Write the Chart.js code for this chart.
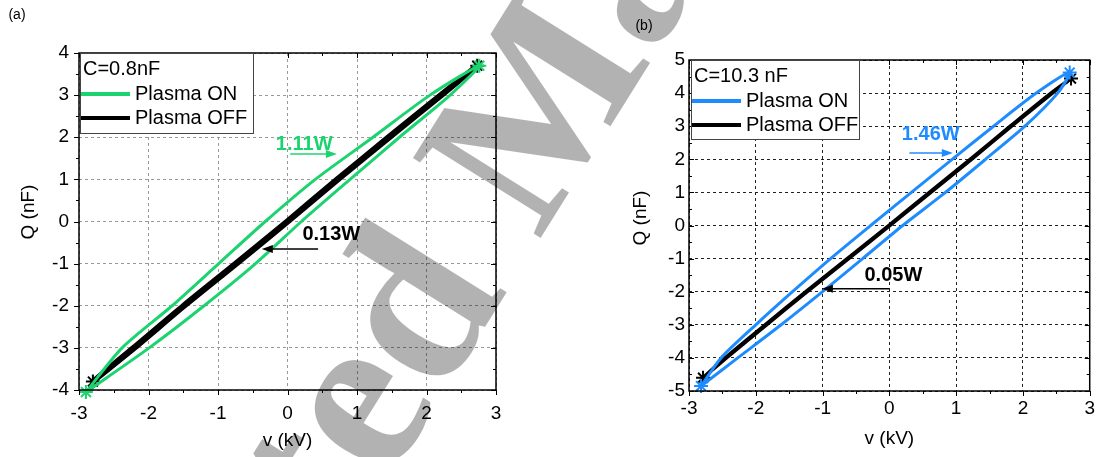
<!DOCTYPE html>
<html>
<head>
<meta charset="utf-8">
<script src="https://cdn.jsdelivr.net/npm/chart.js@4.4.1/dist/chart.umd.min.js"></script>
<style>
  body { margin: 0; background: #fff; }
  #page { position: relative; width: 1101px; height: 457px; overflow: hidden; background: #fff; }
  #chartA { position: absolute; left: 0; top: 0; }
  #chartB { position: absolute; left: 560px; top: 0; }
  #mark { position: absolute; left: 0; top: 0; pointer-events: none; }
</style>
</head>
<body>
<div id="page">
  <canvas id="chartA" width="545" height="457"></canvas>
  <canvas id="chartB" width="541" height="457"></canvas>
  <canvas id="mark" width="1101" height="457"></canvas>
</div>
<script>
// ---- (a) C = 0.8 nF : v (kV) read at fixed Q (nF) levels ----
const aOnQ      = [-4.05, -3, -2, -1, 0, 1, 2, 3, 3.7];
const aOnRiseV  = [-2.9, -1.99, -1.20, -0.46, 0.20, 0.90, 1.61, 2.34, 2.76];
const aOnFallV  = [-2.9, -2.38, -1.66, -0.99, -0.32, 0.40, 1.23, 2.05, 2.76];
const aOffQ     = [-3.8, -3, -2, -1, 0, 1, 2, 3, 3.7];
const aOffRiseV = [-2.8, -2.20, -1.48, -0.73, 0.01, 0.73, 1.47, 2.22, 2.73];
const aOffFallV = [-2.8, -2.22, -1.50, -0.75, -0.01, 0.71, 1.45, 2.20, 2.73];

// ---- (b) C = 10.3 nF ----
const bOnQ      = [-4.85, -4, -3, -2, -1, 0, 1, 2, 3, 4, 4.62];
const bOnRiseV  = [-2.82, -2.27, -1.62, -1.00, -0.40, 0.20, 0.84, 1.44, 2.03, 2.52, 2.70];
const bOnFallV  = [-2.82, -2.52, -2.00, -1.45, -0.88, -0.28, 0.33, 0.94, 1.56, 2.20, 2.70];
const bOffQ     = [-4.6, -4, -3, -2, -1, 0, 1, 2, 3, 4, 4.44];
const bOffRiseV = [-2.79, -2.44, -1.84, -1.23, -0.61, 0.01, 0.62, 1.23, 1.83, 2.44, 2.72];
const bOffFallV = [-2.79, -2.46, -1.86, -1.25, -0.63, -0.01, 0.60, 1.21, 1.81, 2.42, 2.72];

const vTicks  = [-3, -2, -1, 0, 1, 2, 3];
const aQTicks = [-4, -3, -2, -1, 0, 1, 2, 3, 4];
const bQTicks = [-5, -4, -3, -2, -1, 0, 1, 2, 3, 4, 5];

const GREEN = '#1bd46f';
const BLUE = '#1e8cff';
const FONT = '"Liberation Sans", Arial, sans-serif';

// rising branch up to the top tip, then falling branch back to the bottom tip
function loop(q, rise, fall) {
  const pts = q.map((y, i) => ({ x: rise[i], y: y }));
  for (let i = q.length - 2; i >= 0; i--) pts.push({ x: fall[i], y: q[i] });
  return pts;
}

function tipRadius(n, r) {
  return ctx => (ctx.dataIndex === 0 || ctx.dataIndex === n - 1) ? r : 0;
}

function loopDataset(q, rise, fall, color, width) {
  return {
    data: loop(q, rise, fall),
    showLine: true,
    borderColor: color,
    backgroundColor: color,
    borderWidth: width,
    tension: 0.25,
    pointStyle: 'star',
    pointRadius: tipRadius(q.length, 7),
    pointBorderWidth: 2,
    pointBorderColor: color,
    pointHoverRadius: 0,
    clip: false
  };
}

// frame, tick marks, legend box, notes and axis titles
const decor = {
  id: 'decor',
  afterDraw(chart, args, o) {
    const { ctx, chartArea: ca, scales: { x, y } } = chart;
    ctx.save();

    // tick marks every 0.5
    ctx.strokeStyle = '#000';
    ctx.lineWidth = 1;
    ctx.beginPath();
    for (let v = x.min; v <= x.max + 1e-9; v += 0.5) {
      const px = Math.round(x.getPixelForValue(v)) + 0.5;
      const len = Number.isInteger(v) ? 5 : 3;
      ctx.moveTo(px, ca.bottom); ctx.lineTo(px, ca.bottom + len);
      ctx.moveTo(px, ca.top); ctx.lineTo(px, ca.top + len);
    }
    for (let q = y.min; q <= y.max + 1e-9; q += 0.5) {
      const py = Math.round(y.getPixelForValue(q)) + 0.5;
      const len = Number.isInteger(q) ? 5 : 3;
      const dir = o.leftOut ? -1 : 1;
      ctx.moveTo(ca.left, py); ctx.lineTo(ca.left + dir * len, py);
      ctx.moveTo(ca.right, py); ctx.lineTo(ca.right - len, py);
    }
    ctx.stroke();

    // frame
    ctx.lineWidth = 1.5;
    ctx.strokeRect(ca.left, ca.top, ca.right - ca.left, ca.bottom - ca.top);

    // legend
    const lg = o.legend;
    const lx = ca.left + lg.dx, ly = ca.top + lg.dy;
    ctx.fillStyle = '#fff';
    ctx.fillRect(lx, ly, lg.w, lg.h);
    ctx.strokeStyle = '#444';
    ctx.lineWidth = 1;
    ctx.strokeRect(lx + 0.5, ly + 0.5, lg.w, lg.h);
    ctx.fillStyle = '#000';
    ctx.font = '20px ' + FONT;
    ctx.textBaseline = 'middle';
    ctx.textAlign = 'left';
    ctx.fillText(lg.title, lx + 3, ly + 16);
    chart.data.datasets.forEach((ds, i) => {
      const ry = ly + 41 + i * 24;
      ctx.strokeStyle = ds.borderColor;
      ctx.lineWidth = 4;
      ctx.beginPath();
      ctx.moveTo(lx + 1, ry); ctx.lineTo(lx + 50, ry);
      ctx.stroke();
      ctx.fillText(o.names[i], lx + 55, ry);
    });

    // power notes with arrows
    o.notes.forEach(n => {
      ctx.fillStyle = n.color;
      ctx.strokeStyle = n.color;
      ctx.font = 'bold 20px ' + FONT;
      ctx.textAlign = 'center';
      ctx.fillText(n.text, x.getPixelForValue(n.tx), y.getPixelForValue(n.ty));
      const ay = y.getPixelForValue(n.ay);
      const x0 = x.getPixelForValue(n.from), x1 = x.getPixelForValue(n.to);
      const s = Math.sign(x1 - x0);
      ctx.lineWidth = 1.5;
      ctx.beginPath();
      ctx.moveTo(x0, ay); ctx.lineTo(x1 - s * 8, ay);
      ctx.stroke();
      ctx.beginPath();
      ctx.moveTo(x1, ay); ctx.lineTo(x1 - s * 11, ay - 4); ctx.lineTo(x1 - s * 11, ay + 4);
      ctx.closePath();
      ctx.fill();
    });

    // axis titles and panel tag
    ctx.fillStyle = '#000';
    ctx.font = '19px ' + FONT;
    ctx.textAlign = 'center';
    ctx.fillText('v (kV)', (ca.left + ca.right) / 2, o.xTitleY);
    ctx.save();
    ctx.translate(o.yTitleX, o.yTitleY);
    ctx.rotate(-Math.PI / 2);
    ctx.fillText('Q (nF)', 0, 0);
    ctx.restore();
    ctx.font = '14px ' + FONT;
    ctx.fillText(o.tag, o.tagX, o.tagY);

    ctx.restore();
  }
};

function makePanel(id, cfg) {
  return new Chart(document.getElementById(id), {
    type: 'scatter',
    data: {
      datasets: [
        loopDataset(cfg.onQ, cfg.onRise, cfg.onFall, cfg.color, 3),
        loopDataset(cfg.offQ, cfg.offRise, cfg.offFall, '#000', cfg.offWidth)
      ]
    },
    options: {
      responsive: false,
      animation: false,
      events: [],
      layout: { padding: cfg.padding },
      plugins: {
        legend: { display: false },
        tooltip: { enabled: false },
        decor: cfg.decor
      },
      scales: {
        x: {
          min: -3, max: 3,
          afterFit: s => { s.height = cfg.xHeight; },
          afterBuildTicks: s => { s.ticks = vTicks.map(v => ({ value: v })); },
          grid: { color: cfg.gridColor, drawTicks: false, lineWidth: 1 },
          border: { display: false, dash: [3, 3] },
          ticks: { color: '#000', font: { size: 19, family: FONT }, padding: cfg.xPad, maxRotation: 0 }
        },
        y: {
          min: cfg.qTicks[0], max: cfg.qTicks[cfg.qTicks.length - 1],
          afterFit: s => { s.width = cfg.yWidth; },
          afterBuildTicks: s => { s.ticks = cfg.qTicks.map(v => ({ value: v })); },
          grid: { color: cfg.gridColor, drawTicks: false, lineWidth: 1 },
          border: { display: false, dash: [3, 3] },
          ticks: { color: '#000', font: { size: 19, family: FONT }, padding: cfg.yPad }
        }
      }
    },
    plugins: [decor]
  });
}

makePanel('chartA', {
  onQ: aOnQ, onRise: aOnRiseV, onFall: aOnFallV,
  offQ: aOffQ, offRise: aOffRiseV, offFall: aOffFallV,
  color: GREEN, offWidth: 5.5, qTicks: aQTicks,
  padding: { top: 53, right: 49, left: 0, bottom: 0 },
  xHeight: 67, yWidth: 79, xPad: 12, yPad: 10,
  gridColor: '#999',
  decor: {
    leftOut: true,
    legend: { dx: 1, dy: 0, w: 173, h: 80, title: 'C=0.8nF' },
    names: ['Plasma ON', 'Plasma OFF'],
    notes: [
      { text: '1.11W', color: GREEN, tx: 0.24, ty: 1.83, ay: 1.6, from: 0.04, to: 0.71 },
      { text: '0.13W', color: '#000', tx: 0.63, ty: -0.32, ay: -0.65, from: 0.44, to: -0.37 }
    ],
    xTitleY: 441, yTitleX: 29, yTitleY: 212,
    tag: '(a)', tagX: 17, tagY: 15
  }
});

makePanel('chartB', {
  onQ: bOnQ, onRise: bOnRiseV, onFall: bOnFallV,
  offQ: bOffQ, offRise: bOffRiseV, offFall: bOffFallV,
  color: BLUE, offWidth: 3.5, qTicks: bQTicks,
  padding: { top: 60, right: 6, left: 0, bottom: 0 },
  xHeight: 66, yWidth: 129, xPad: 6, yPad: 4,
  gridColor: '#222',
  decor: {
    leftOut: false,
    legend: { dx: 2, dy: 0, w: 168, h: 79, title: 'C=10.3 nF' },
    names: ['Plasma ON', 'Plasma OFF'],
    notes: [
      { text: '1.46W', color: BLUE, tx: 0.62, ty: 2.74, ay: 2.19, from: 0.3, to: 0.95 },
      { text: '0.05W', color: '#000', tx: 0.06, ty: -1.52, ay: -1.91, from: 0.0, to: -1.01 }
    ],
    xTitleY: 439, yTitleX: 81, yTitleY: 218,
    tag: '(b)', tagX: 84, tagY: 26
  }
});

// grey diagonal stamp across both panels
const mk = document.getElementById('mark').getContext('2d');
mk.save();
mk.translate(508, 290);
mk.rotate(-58 * Math.PI / 180);
mk.font = 'bold 230px "Liberation Serif", serif';
mk.fillStyle = 'rgba(0, 0, 0, 0.3)';
mk.textBaseline = 'alphabetic';
mk.textAlign = 'right';
mk.fillText('Accepted', 0, 0);
mk.textAlign = 'left';
mk.fillText(' Manuscript', 0, 0);
mk.restore();
</script>
</body>
</html>
